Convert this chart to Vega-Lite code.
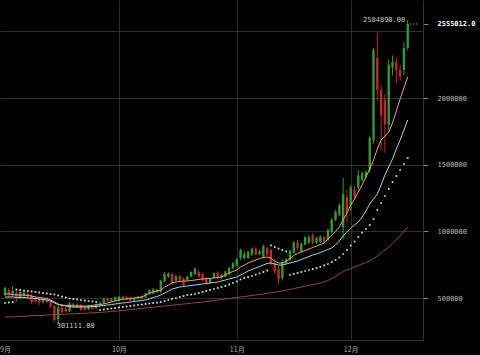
{
"$schema": "https://vega.github.io/schema/vega-lite/v6.json",
"width": 423, "height": 340,
"autosize": {"type": "none"},
"padding": {"left": 0, "top": 0, "right": 57, "bottom": 15},
"background": "#000000",
"config": {"view": {"stroke": null}},
"data": {"values": [
{"d":"2017-09-01","o":522000,"h":585000,"l":515000,"c":575000,"m1":530000,"m2":507500,"m3":357500,"s":462500},
{"d":"2017-09-02","o":560000,"h":575000,"l":505000,"c":522000,"m1":530000,"m2":507500,"m3":357500,"s":466000},
{"d":"2017-09-03","o":520000,"h":590000,"l":505000,"c":555000,"m1":526000,"m2":508000,"m3":359000,"s":470000},
{"d":"2017-09-04","o":537000,"h":560000,"l":470000,"c":500000,"m1":522500,"m2":504000,"m3":360500,"s":564000},
{"d":"2017-09-05","o":500000,"h":555000,"l":490000,"c":545000,"m1":522500,"m2":504000,"m3":362000,"s":560000},
{"d":"2017-09-06","o":515000,"h":550000,"l":510000,"c":540000,"m1":522500,"m2":504000,"m3":363500,"s":556000},
{"d":"2017-09-07","o":530000,"h":545000,"l":495000,"c":505000,"m1":519000,"m2":500000,"m3":365000,"s":552500},
{"d":"2017-09-08","o":515000,"h":530000,"l":455000,"c":470000,"m1":515000,"m2":500000,"m3":366500,"s":549000},
{"d":"2017-09-09","o":500000,"h":510000,"l":465000,"c":475000,"m1":507500,"m2":496000,"m3":368000,"s":545000},
{"d":"2017-09-10","o":495000,"h":505000,"l":445000,"c":465000,"m1":504000,"m2":492500,"m3":369500,"s":541000},
{"d":"2017-09-11","o":470000,"h":500000,"l":460000,"c":490000,"m1":500000,"m2":489000,"m3":371000,"s":537500},
{"d":"2017-09-12","o":490000,"h":505000,"l":460000,"c":470000,"m1":496000,"m2":485000,"m3":372500,"s":534000},
{"d":"2017-09-13","o":470000,"h":480000,"l":425000,"c":435000,"m1":485000,"m2":477500,"m3":374000,"s":530000},
{"d":"2017-09-14","o":440000,"h":450000,"l":320000,"c":335000,"m1":470000,"m2":462500,"m3":375000,"s":526000},
{"d":"2017-09-15","o":340000,"h":445000,"l":301111,"c":430000,"m1":455000,"m2":451000,"m3":375500,"s":519000},
{"d":"2017-09-16","o":430000,"h":445000,"l":380000,"c":395000,"m1":447500,"m2":444000,"m3":377000,"s":511000},
{"d":"2017-09-17","o":420000,"h":435000,"l":390000,"c":400000,"m1":444000,"m2":440000,"m3":378500,"s":504000},
{"d":"2017-09-18","o":400000,"h":470000,"l":395000,"c":460000,"m1":444000,"m2":436000,"m3":380000,"s":496000},
{"d":"2017-09-19","o":455000,"h":465000,"l":425000,"c":430000,"m1":440000,"m2":432500,"m3":381500,"s":492500},
{"d":"2017-09-20","o":430000,"h":460000,"l":425000,"c":450000,"m1":440000,"m2":432500,"m3":383000,"s":489000},
{"d":"2017-09-21","o":445000,"h":455000,"l":400000,"c":410000,"m1":440000,"m2":432500,"m3":384500,"s":485000},
{"d":"2017-09-22","o":430000,"h":440000,"l":400000,"c":410000,"m1":440000,"m2":432500,"m3":386000,"s":481000},
{"d":"2017-09-23","o":415000,"h":450000,"l":410000,"c":445000,"m1":440000,"m2":432500,"m3":387500,"s":477500},
{"d":"2017-09-24","o":440000,"h":450000,"l":415000,"c":420000,"m1":444000,"m2":436000,"m3":389000,"s":474000},
{"d":"2017-09-25","o":425000,"h":460000,"l":420000,"c":455000,"m1":447500,"m2":436000,"m3":390500,"s":470000},
{"d":"2017-09-26","o":445000,"h":470000,"l":440000,"c":465000,"m1":451000,"m2":440000,"m3":392000,"s":410000},
{"d":"2017-09-27","o":460000,"h":500000,"l":455000,"c":495000,"m1":455000,"m2":444000,"m3":394000,"s":414000},
{"d":"2017-09-28","o":495000,"h":505000,"l":470000,"c":480000,"m1":462500,"m2":447500,"m3":396500,"s":417500},
{"d":"2017-09-29","o":478000,"h":500000,"l":468000,"c":492000,"m1":470000,"m2":451000,"m3":399000,"s":421000},
{"d":"2017-09-30","o":480000,"h":510000,"l":475000,"c":505000,"m1":477500,"m2":455000,"m3":401000,"s":425000},
{"d":"2017-10-01","o":480000,"h":515000,"l":475000,"c":510000,"m1":485000,"m2":459000,"m3":404000,"s":429000},
{"d":"2017-10-02","o":495000,"h":518000,"l":490000,"c":510000,"m1":489000,"m2":462500,"m3":407000,"s":432500},
{"d":"2017-10-03","o":510000,"h":515000,"l":485000,"c":490000,"m1":492500,"m2":466000,"m3":410000,"s":436000},
{"d":"2017-10-04","o":505000,"h":512000,"l":475000,"c":480000,"m1":496000,"m2":470000,"m3":413000,"s":440000},
{"d":"2017-10-05","o":482000,"h":505000,"l":476000,"c":500000,"m1":500000,"m2":474000,"m3":416000,"s":444000},
{"d":"2017-10-06","o":495000,"h":515000,"l":490000,"c":510000,"m1":504000,"m2":477500,"m3":419000,"s":447500},
{"d":"2017-10-07","o":500000,"h":520000,"l":495000,"c":515000,"m1":507500,"m2":481000,"m3":422000,"s":451000},
{"d":"2017-10-08","o":505000,"h":540000,"l":500000,"c":535000,"m1":522500,"m2":485000,"m3":425000,"s":455000},
{"d":"2017-10-09","o":530000,"h":565000,"l":525000,"c":560000,"m1":534000,"m2":492500,"m3":428000,"s":459000},
{"d":"2017-10-10","o":535000,"h":575000,"l":530000,"c":565000,"m1":545000,"m2":504000,"m3":431000,"s":462500},
{"d":"2017-10-11","o":545000,"h":570000,"l":535000,"c":560000,"m1":552500,"m2":511000,"m3":434000,"s":466000},
{"d":"2017-10-12","o":545000,"h":635000,"l":540000,"c":630000,"m1":560000,"m2":522500,"m3":437000,"s":470000},
{"d":"2017-10-13","o":625000,"h":695000,"l":620000,"c":680000,"m1":582500,"m2":537500,"m3":440000,"s":477500},
{"d":"2017-10-14","o":660000,"h":690000,"l":650000,"c":685000,"m1":597500,"m2":552500,"m3":443000,"s":485000},
{"d":"2017-10-15","o":680000,"h":690000,"l":600000,"c":615000,"m1":612500,"m2":567500,"m3":446000,"s":492500},
{"d":"2017-10-16","o":630000,"h":675000,"l":625000,"c":665000,"m1":620000,"m2":575000,"m3":449000,"s":500000},
{"d":"2017-10-17","o":665000,"h":675000,"l":620000,"c":630000,"m1":624000,"m2":582500,"m3":452000,"s":507500},
{"d":"2017-10-18","o":645000,"h":655000,"l":585000,"c":595000,"m1":627500,"m2":586000,"m3":455000,"s":515000},
{"d":"2017-10-19","o":635000,"h":665000,"l":625000,"c":660000,"m1":627500,"m2":590000,"m3":458000,"s":522500},
{"d":"2017-10-20","o":660000,"h":700000,"l":655000,"c":695000,"m1":631000,"m2":594000,"m3":461000,"s":526000},
{"d":"2017-10-21","o":680000,"h":730000,"l":670000,"c":720000,"m1":635000,"m2":597500,"m3":464000,"s":530000},
{"d":"2017-10-22","o":695000,"h":710000,"l":655000,"c":660000,"m1":639000,"m2":601000,"m3":467000,"s":537500},
{"d":"2017-10-23","o":680000,"h":690000,"l":625000,"c":635000,"m1":642500,"m2":605000,"m3":470000,"s":545000},
{"d":"2017-10-24","o":650000,"h":660000,"l":600000,"c":612000,"m1":646000,"m2":609000,"m3":474000,"s":552500},
{"d":"2017-10-25","o":615000,"h":655000,"l":605000,"c":650000,"m1":646000,"m2":612500,"m3":477500,"s":560000},
{"d":"2017-10-26","o":650000,"h":695000,"l":645000,"c":685000,"m1":650000,"m2":616000,"m3":481000,"s":567500},
{"d":"2017-10-27","o":690000,"h":700000,"l":640000,"c":650000,"m1":654000,"m2":620000,"m3":485000,"s":575000},
{"d":"2017-10-28","o":650000,"h":680000,"l":645000,"c":675000,"m1":657500,"m2":627500,"m3":489000,"s":582500},
{"d":"2017-10-29","o":660000,"h":705000,"l":655000,"c":700000,"m1":672500,"m2":635000,"m3":492500,"s":590000},
{"d":"2017-10-30","o":680000,"h":735000,"l":670000,"c":725000,"m1":687500,"m2":642500,"m3":496000,"s":601000},
{"d":"2017-10-31","o":725000,"h":770000,"l":715000,"c":760000,"m1":699000,"m2":650000,"m3":500000,"s":612500},
{"d":"2017-11-01","o":745000,"h":800000,"l":735000,"c":790000,"m1":710000,"m2":657500,"m3":504000,"s":624000},
{"d":"2017-11-02","o":800000,"h":870000,"l":785000,"c":860000,"m1":732500,"m2":672500,"m3":507500,"s":639000},
{"d":"2017-11-03","o":800000,"h":850000,"l":790000,"c":830000,"m1":747500,"m2":687500,"m3":511000,"s":650000},
{"d":"2017-11-04","o":800000,"h":855000,"l":795000,"c":845000,"m1":762500,"m2":702500,"m3":515000,"s":657500},
{"d":"2017-11-05","o":825000,"h":880000,"l":815000,"c":870000,"m1":774000,"m2":714000,"m3":519000,"s":665000},
{"d":"2017-11-06","o":870000,"h":880000,"l":820000,"c":825000,"m1":785000,"m2":725000,"m3":522500,"s":676000},
{"d":"2017-11-07","o":830000,"h":860000,"l":820000,"c":850000,"m1":796000,"m2":736000,"m3":526000,"s":684000},
{"d":"2017-11-08","o":810000,"h":900000,"l":800000,"c":890000,"m1":804000,"m2":747500,"m3":530000,"s":695000},
{"d":"2017-11-09","o":875000,"h":885000,"l":815000,"c":825000,"m1":807500,"m2":759000,"m3":534500,"s":706000},
{"d":"2017-11-10","o":860000,"h":870000,"l":740000,"c":760000,"m1":800000,"m2":762500,"m3":539000,"s":894000},
{"d":"2017-11-11","o":760000,"h":790000,"l":680000,"c":700000,"m1":777500,"m2":755000,"m3":543500,"s":882500},
{"d":"2017-11-12","o":720000,"h":740000,"l":600000,"c":640000,"m1":762500,"m2":747500,"m3":548000,"s":871000},
{"d":"2017-11-13","o":650000,"h":790000,"l":630000,"c":770000,"m1":762500,"m2":747500,"m3":552500,"s":860000},
{"d":"2017-11-14","o":760000,"h":800000,"l":750000,"c":790000,"m1":774000,"m2":755000,"m3":558500,"s":849000},
{"d":"2017-11-15","o":785000,"h":865000,"l":775000,"c":855000,"m1":796000,"m2":762500,"m3":564500,"s":672500},
{"d":"2017-11-16","o":840000,"h":925000,"l":830000,"c":915000,"m1":819000,"m2":770000,"m3":570500,"s":680000},
{"d":"2017-11-17","o":915000,"h":935000,"l":860000,"c":875000,"m1":834000,"m2":777500,"m3":576500,"s":687500},
{"d":"2017-11-18","o":850000,"h":915000,"l":845000,"c":905000,"m1":845000,"m2":789000,"m3":582500,"s":695000},
{"d":"2017-11-19","o":900000,"h":965000,"l":895000,"c":955000,"m1":856000,"m2":800000,"m3":588500,"s":702500},
{"d":"2017-11-20","o":915000,"h":975000,"l":905000,"c":955000,"m1":867500,"m2":811000,"m3":594500,"s":710000},
{"d":"2017-11-21","o":970000,"h":985000,"l":900000,"c":915000,"m1":879000,"m2":822500,"m3":600500,"s":717500},
{"d":"2017-11-22","o":915000,"h":960000,"l":905000,"c":950000,"m1":890000,"m2":830000,"m3":606500,"s":725000},
{"d":"2017-11-23","o":920000,"h":970000,"l":910000,"c":960000,"m1":901000,"m2":841000,"m3":614000,"s":732500},
{"d":"2017-11-24","o":955000,"h":965000,"l":910000,"c":920000,"m1":912500,"m2":852500,"m3":621500,"s":744000},
{"d":"2017-11-25","o":935000,"h":1020000,"l":925000,"c":1010000,"m1":942500,"m2":864000,"m3":631000,"s":755000},
{"d":"2017-11-26","o":995000,"h":1100000,"l":985000,"c":1085000,"m1":969000,"m2":875000,"m3":646000,"s":770000},
{"d":"2017-11-27","o":1085000,"h":1160000,"l":1075000,"c":1145000,"m1":999000,"m2":897500,"m3":661000,"s":785000},
{"d":"2017-11-28","o":1125000,"h":1210000,"l":1115000,"c":1195000,"m1":1032500,"m2":927500,"m3":680000,"s":804000},
{"d":"2017-11-29","o":1030000,"h":1400000,"l":940000,"c":1280000,"m1":1085000,"m2":965000,"m3":699000,"s":830000},
{"d":"2017-11-30","o":1257000,"h":1310000,"l":1070000,"c":1137000,"m1":1137500,"m2":995000,"m3":710000,"s":860000},
{"d":"2017-12-01","o":1200000,"h":1345000,"l":1150000,"c":1330000,"m1":1197500,"m2":1025000,"m3":721000,"s":894000},
{"d":"2017-12-02","o":1310000,"h":1340000,"l":1240000,"c":1260000,"m1":1242500,"m2":1047500,"m3":732500,"s":924000},
{"d":"2017-12-03","o":1330000,"h":1460000,"l":1300000,"c":1420000,"m1":1295000,"m2":1070000,"m3":744000,"s":957500},
{"d":"2017-12-04","o":1385000,"h":1450000,"l":1370000,"c":1435000,"m1":1347500,"m2":1107500,"m3":755000,"s":991000},
{"d":"2017-12-05","o":1405000,"h":1460000,"l":1390000,"c":1445000,"m1":1407500,"m2":1152500,"m3":766000,"s":1017500},
{"d":"2017-12-06","o":1460000,"h":1720000,"l":1440000,"c":1700000,"m1":1467500,"m2":1205000,"m3":777500,"s":1047500},
{"d":"2017-12-07","o":1685000,"h":2375000,"l":1660000,"c":2360000,"m1":1535000,"m2":1242500,"m3":796000,"s":1092500},
{"d":"2017-12-08","o":2300000,"h":2487500,"l":1980000,"c":2060000,"m1":1617500,"m2":1280000,"m3":815000,"s":1160000},
{"d":"2017-12-09","o":2060000,"h":2100000,"l":1610000,"c":1870000,"m1":1685000,"m2":1347500,"m3":837500,"s":1212500},
{"d":"2017-12-10","o":1985000,"h":2030000,"l":1590000,"c":1800000,"m1":1715000,"m2":1422500,"m3":860000,"s":1265000},
{"d":"2017-12-11","o":1800000,"h":2290000,"l":1760000,"c":2250000,"m1":1745000,"m2":1482500,"m3":882500,"s":1317500},
{"d":"2017-12-12","o":2230000,"h":2320000,"l":2170000,"c":2270000,"m1":1812500,"m2":1542500,"m3":909000,"s":1370000},
{"d":"2017-12-13","o":2270000,"h":2300000,"l":2110000,"c":2210000,"m1":1902500,"m2":1617500,"m3":935000,"s":1415000},
{"d":"2017-12-14","o":2210000,"h":2250000,"l":2130000,"c":2160000,"m1":1992500,"m2":1685000,"m3":965000,"s":1460000},
{"d":"2017-12-15","o":2210000,"h":2420000,"l":2170000,"c":2375000,"m1":2075000,"m2":1760000,"m3":999000,"s":1505000},
{"d":"2017-12-16","o":2375000,"h":2584890,"l":2360000,"c":2555012,"m1":2157500,"m2":1835000,"m3":1032500,"s":1550000}
]},
"encoding": {
  "x": {"field": "d", "type": "temporal", "title": null,
    "scale": {"type": "utc", "domain": [{"year": 2017, "month": 9, "date": 1, "utc": true}, {"year": 2017, "month": 12, "date": 18, "hours": 17, "utc": true}]},
    "axis": {"tickCount": {"interval": "month", "step": 1}, "labelExpr": "(utcmonth(datum.value)+1)+'月'", "grid": true,
      "gridColor": "#2e2e2e", "gridWidth": 1,
      "gridOpacity": {"condition": {"test": "utcmonth(datum.value) == 8", "value": 0}, "value": 1},
      "domainColor": "#333333", "ticks": false, "labelColor": "#b0b0b0", "labelFont": "Noto Sans CJK JP", "labelFontSize": 7, "labelPadding": 5, "labelFlush": false, "labelAlign": "center", "labelBound": false, "labelOverlap": false}}
},
"layer": [
  {"mark": {"type": "rule", "strokeWidth": 1},
   "encoding": {
     "y": {"field": "l", "type": "quantitative", "title": null,
       "scale": {"type": "linear", "domain": [185000, 2735000], "nice": false, "zero": false},
       "axis": {"orient": "right", "values": [500000, 1000000, 1500000, 2000000, 2500000, 2555012], "grid": true,
         "gridColor": {"condition": {"test": "datum.value == 2555012", "value": "#000000"}, "value": "#2e2e2e"},
         "gridOpacity": {"condition": {"test": "datum.value == 2555012", "value": 0}, "value": 1},
         "domainColor": "#333333", "tickSize": 5,
         "tickOpacity": {"condition": {"test": "datum.value == 2500000", "value": 0}, "value": 1},
         "tickColor": "#8a8a8a",
         "labelPadding": 9, "labelFont": "DejaVu Sans Mono", "labelFontSize": 7,
         "labelColor": {"condition": {"test": "datum.value == 2555012", "value": "#ffffff"}, "value": "#b8b8b8"},
         "labelFontWeight": {"condition": {"test": "datum.value == 2555012", "value": "bold"}, "value": "normal"},
         "labelExpr": "datum.value == 2555012 ? '2555012.0' : (datum.value == 2500000 ? '' : format(datum.value, 'd'))",
         "labelOverlap": false}},
     "y2": {"field": "h"},
     "color": {"condition": {"test": "datum.c >= datum.o", "value": "#389638"}, "value": "#c02a2a"}
   }},
  {"mark": {"type": "bar", "width": 2.4},
   "encoding": {
     "y": {"field": "o", "type": "quantitative", "title": null, "scale": {"type": "linear", "domain": [185000, 2735000], "nice": false, "zero": false}},
     "y2": {"field": "c"},
     "color": {"condition": {"test": "datum.c >= datum.o", "value": "#389638"}, "value": "#c02a2a"}
   }},
  {"mark": {"type": "line", "color": "#8c4a55", "strokeWidth": 1},
   "encoding": {"y": {"field": "m3", "type": "quantitative", "title": null, "scale": {"type": "linear", "domain": [185000, 2735000], "nice": false, "zero": false}}}},
  {"mark": {"type": "line", "color": "#9fd6e6", "strokeWidth": 1},
   "encoding": {"y": {"field": "m2", "type": "quantitative", "title": null, "scale": {"type": "linear", "domain": [185000, 2735000], "nice": false, "zero": false}}}},
  {"mark": {"type": "line", "color": "#e3a678", "strokeWidth": 1},
   "encoding": {"y": {"field": "m1", "type": "quantitative", "title": null, "scale": {"type": "linear", "domain": [185000, 2735000], "nice": false, "zero": false}}}},
  {"mark": {"type": "square", "size": 3, "filled": true, "color": "#e0e0e0", "opacity": 1},
   "encoding": {"y": {"field": "s", "type": "quantitative", "title": null, "scale": {"type": "linear", "domain": [185000, 2735000], "nice": false, "zero": false}}}},
  {"data": {"values": [{"d": "2017-12-16T14:00:00Z", "d2": "2017-12-18T17:00:00Z", "v": 2555012}]},
   "mark": {"type": "rule", "color": "#9a9a9a", "strokeWidth": 1, "strokeDash": [1.5, 1.5]},
   "encoding": {"x2": {"field": "d2"}, "y": {"field": "v", "type": "quantitative", "title": null, "scale": {"type": "linear", "domain": [185000, 2735000], "nice": false, "zero": false}}}},
  {"data": {"values": [{"d": "2017-12-16", "v": 2584890, "t": "2584890.00"}]},
   "mark": {"type": "text", "align": "right", "baseline": "middle", "dx": -2.5, "font": "DejaVu Sans Mono", "fontSize": 7, "color": "#c8c8c8"},
   "encoding": {"text": {"field": "t"}, "y": {"field": "v", "type": "quantitative", "title": null, "scale": {"type": "linear", "domain": [185000, 2735000], "nice": false, "zero": false}}}},
  {"data": {"values": [{"d": "2017-09-15", "v": 301111, "t": "301111.00"}]},
   "mark": {"type": "text", "align": "left", "baseline": "middle", "dx": -1.5, "dy": 1, "font": "DejaVu Sans Mono", "fontSize": 7, "color": "#c8c8c8"},
   "encoding": {"text": {"field": "t"}, "y": {"field": "v", "type": "quantitative", "title": null, "scale": {"type": "linear", "domain": [185000, 2735000], "nice": false, "zero": false}}}}
]
}
